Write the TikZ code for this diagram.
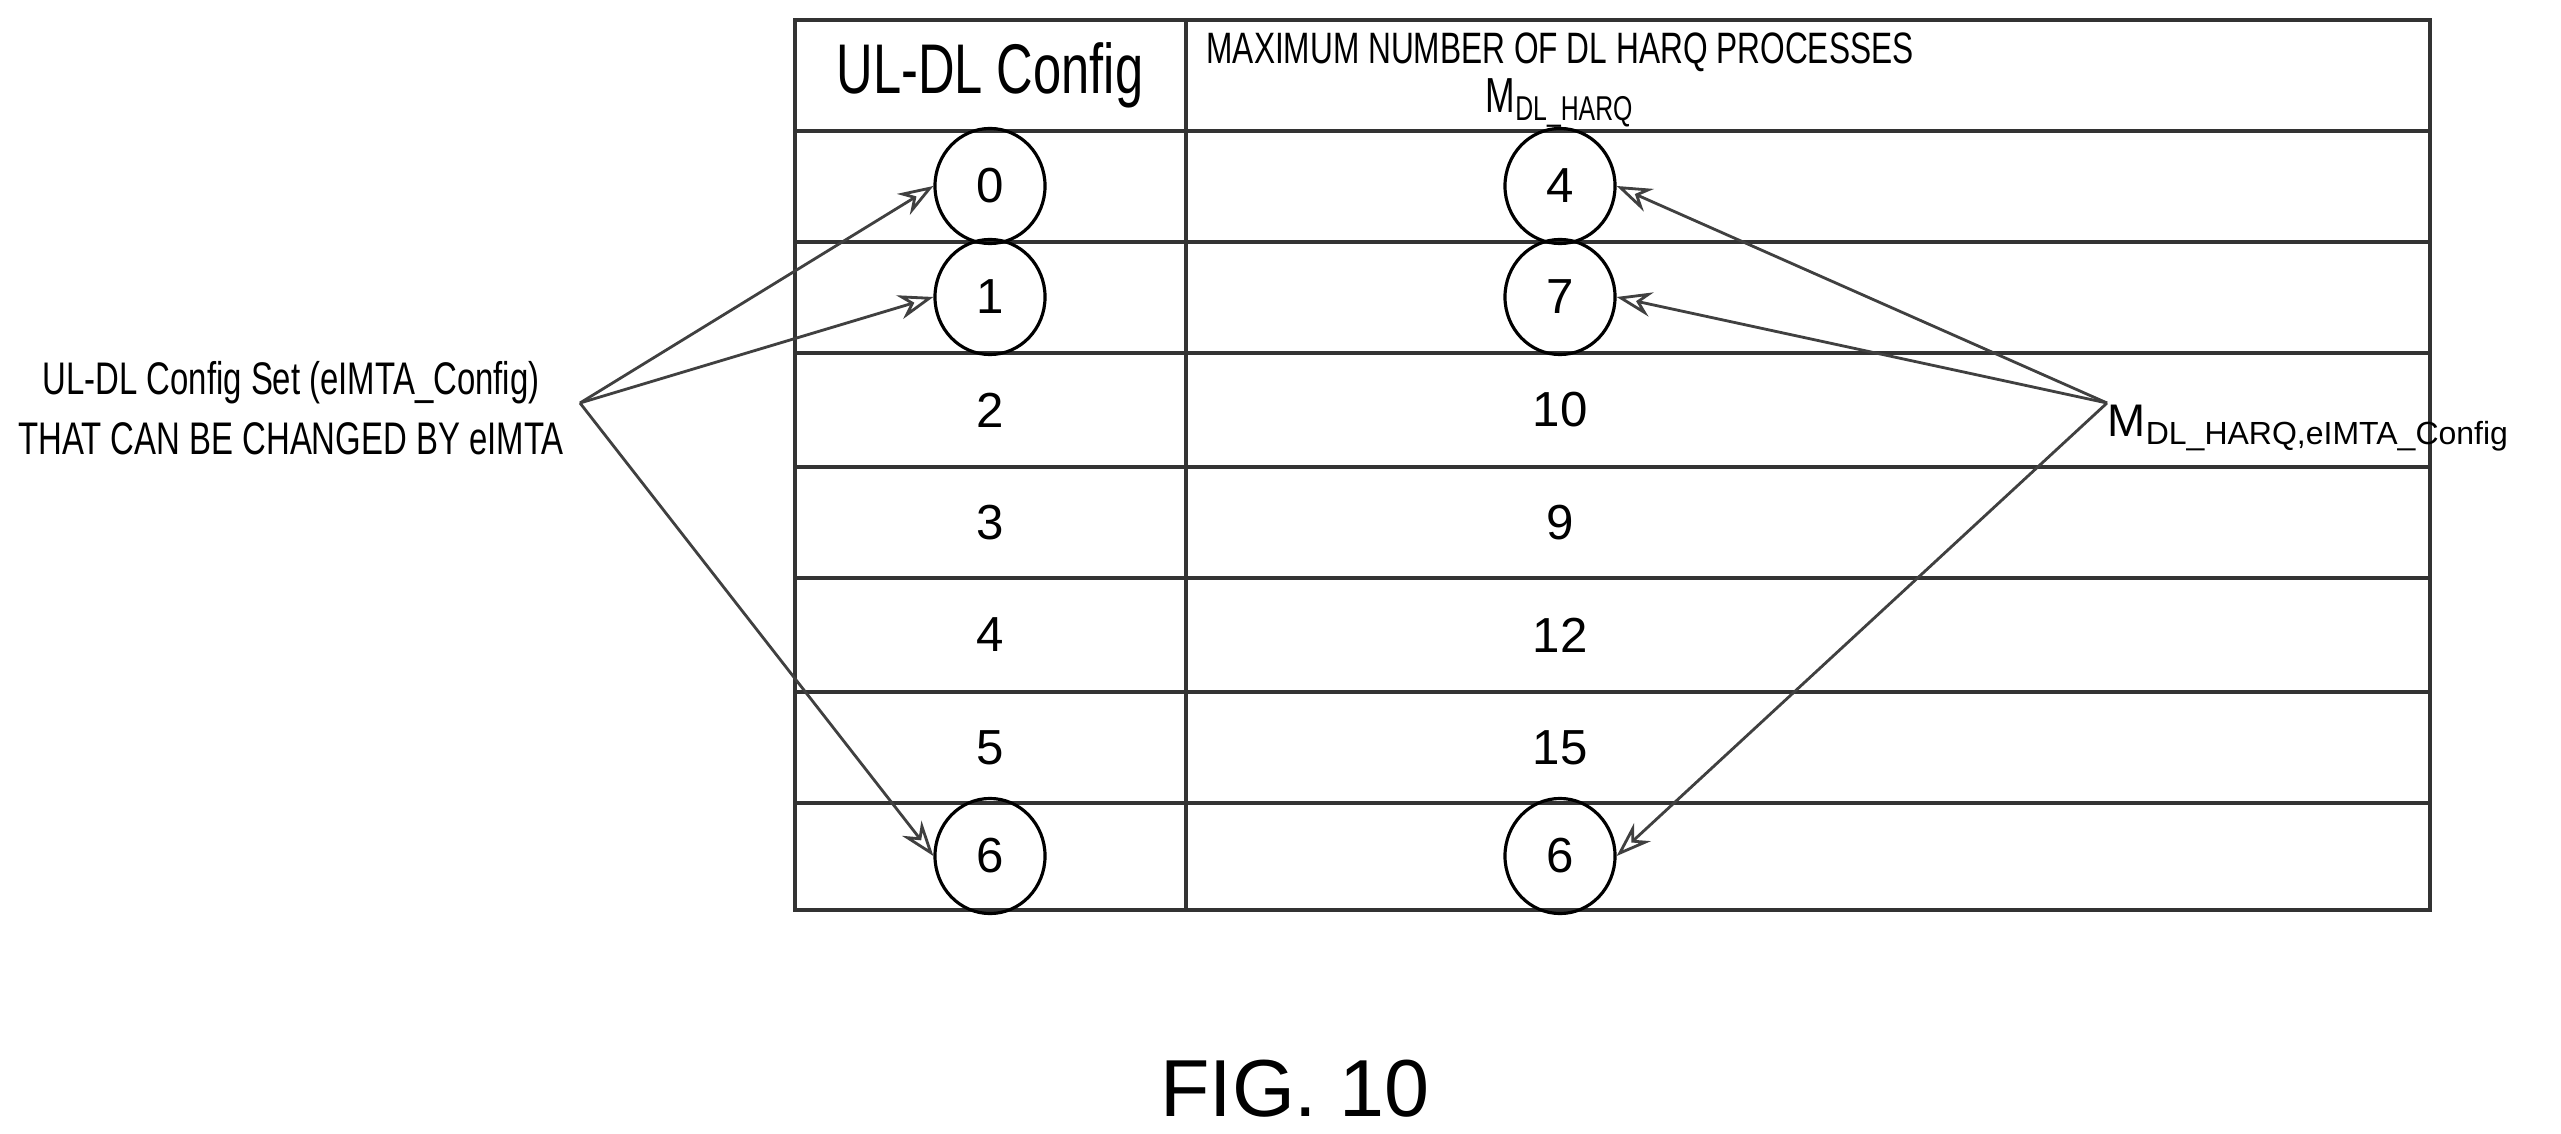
\documentclass[tikz,border=0pt]{standalone}
\usepackage{fontspec}
\setmainfont{Liberation Sans}
\newfontfamily\cond{Liberation Sans}[FakeStretch=0.72]
\usetikzlibrary{arrows.meta,shapes.geometric}
\begin{document}
\begin{tikzpicture}[x=0.01cm,y=-0.01cm,
  grid/.style={line width=0.9pt,black!80},
  num/.style={font=\fontsize{14}{16}\selectfont},
  circ/.style={draw,line width=0.9pt,ellipse,minimum width=1.1cm,minimum height=1.15cm,inner sep=0pt,font=\fontsize{14}{16}\selectfont},
  arr/.style={line width=0.8pt,black!75,-{Stealth[length=10pt,width=7pt,open]}}]
\useasboundingbox (0,0) rectangle (2561,1134);
\fill[white] (0,0) rectangle (2561,1134);
% table
\draw[grid] (795,20) rectangle (2430,910);
\draw[grid] (1186,20) -- (1186,910);
\foreach \y in {131,242,353,467,578,692,803} \draw[grid] (795,\y) -- (2430,\y);
% header
\node[font=\cond\fontsize{20}{22}\selectfont] (h1) at (990,75) {UL-DL Config};
\node[font=\cond\fontsize{12.5}{14}\selectfont] (h2) at (1560,52) {MAXIMUM NUMBER OF DL HARQ PROCESSES};
\node[font=\cond\fontsize{14}{16}\selectfont] (h3) at (1560,103) {M\textsubscript{DL\_HARQ}};
% column 1
\node[circ] (c0) at (990,186) {0};
\node[circ] (c1) at (990,297) {1};
\node[num] (c2) at (990,410) {2};
\node[num] (c3) at (990,523) {3};
\node[num] (c4) at (990,635) {4};
\node[num] (c5) at (990,748) {5};
\node[circ] (c6) at (990,856) {6};
% column 2
\node[circ] (d0) at (1560,186) {4};
\node[circ] (d1) at (1560,297) {7};
\node[num] (d2) at (1560,410) {10};
\node[num] (d3) at (1560,523) {9};
\node[num] (d4) at (1560,635) {12};
\node[num] (d5) at (1560,748) {15};
\node[circ] (d6) at (1560,856) {6};
% left label
\node[font=\cond\fontsize{13}{17}\selectfont,align=center] (L) at (291,408) {UL-DL Config Set (eIMTA\_Config)\\THAT CAN BE CHANGED BY eIMTA};
\coordinate (lp) at (580,403);
\draw[arr] (lp) -- (c0.west);
\draw[arr] (lp) -- (c1.west);
\draw[arr] (lp) -- (c6.west);
% right label
\node[font=\fontsize{13}{15}\selectfont,anchor=west,inner sep=0pt] (R) at (2107,428) {M\textsubscript{DL\_HARQ,eIMTA\_Config}};
\coordinate (rp) at (2107,403);
\draw[arr] (rp) -- (d0.east);
\draw[arr] (rp) -- (d1.east);
\draw[arr] (rp) -- (d6.east);
% caption
\node[font=\fontsize{23}{26}\selectfont] (fig) at (1295,1089) {FIG. 10};
\end{tikzpicture}
\end{document}
